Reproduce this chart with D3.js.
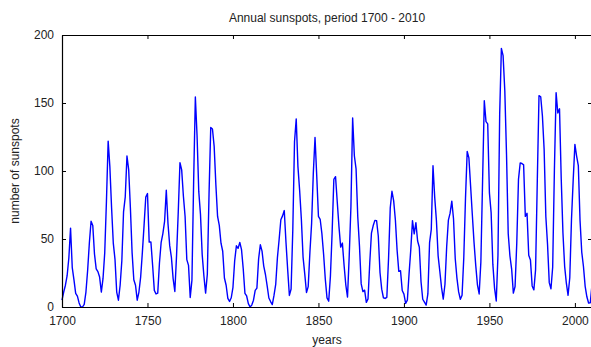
<!DOCTYPE html>
<html><head><meta charset="utf-8">
<script src="https://cdn.jsdelivr.net/npm/d3@7"></script>
<style>body{margin:0;background:#fff}svg{display:block}text{font-family:"Liberation Sans",Arial,sans-serif}</style>
</head><body>
<script>
const startYear = 1700;
const sunspots = [
5,11,16,23,36,58,29,20,10,8,
3,0,0,2,11,27,47,63,60,39,
28,26,22,11,21,40,78,122,103,73,
47,35,11,5,16,34,70,81,111,101,
73,40,20,16,5,11,22,40,60,80.9,
83.4,47.7,47.8,30.7,12.2,9.6,10.2,32.4,47.6,54,
62.9,85.9,61.2,45.1,36.4,20.9,11.4,37.8,69.8,106.1,
100.8,81.6,66.5,34.8,30.6,7,19.8,92.5,154.4,125.9,
84.8,68.1,38.5,22.8,10.2,24.1,82.9,132,130.9,118.1,
89.9,66.6,60,46.9,41,21.3,16,6.4,4.1,6.8,
14.5,34,45,43.1,47.5,42.2,28.1,10.1,8.1,2.5,
0,1.4,5,12.2,13.9,35.4,45.8,41.1,30.1,23.9,
15.6,6.6,4,1.8,8.5,16.6,36.3,49.6,64.2,67,
70.9,47.8,27.5,8.5,13.2,56.9,121.5,138.3,103.2,85.7,
64.6,36.7,24.2,10.7,15,40.1,61.5,98.5,124.7,96.3,
66.6,64.5,54.1,39,20.6,6.7,4.3,22.7,54.8,93.8,
95.8,77.2,59.1,44,47,30.5,16.3,7.3,37.6,74,
139,111.2,101.6,66.2,44.7,17,11.3,12.4,3.4,6,
32.3,54.3,59.7,63.7,63.5,52.2,25.4,13.1,6.8,6.3,
7.1,35.6,73,85.1,78,64,41.8,26.2,26.7,12.1,
9.5,2.7,5,24.4,42,63.5,53.8,62,48.5,43.9,
18.6,5.7,3.6,1.4,9.6,47.4,57.1,103.9,80.6,63.6,
37.6,26.1,14.2,5.8,16.7,44.3,63.9,69,77.8,64.9,
35.7,21.2,11.1,5.7,8.7,36.1,79.7,114.4,109.6,88.8,
67.8,47.5,30.6,16.3,9.6,33.2,92.6,151.6,136.3,134.7,
83.9,69.4,31.5,13.9,4.4,38,141.7,190.2,184.8,159,
112.3,53.9,37.5,27.9,10.2,15.1,47,93.8,105.9,105.5,
104.5,66.6,68.9,38,34.5,15.5,12.6,27.5,92.5,155.4,
154.6,140.4,115.9,66.6,45.9,17.9,13.4,29.2,100.2,157.6,
142.6,145.7,94.3,54.6,29.9,17.5,8.6,21.5,64.3,93.3,
119.6,111.0,104.0,63.7,40.4,29.8,15.2,7.5,2.9,3.1,
16.5
];
const xTicks = [1700,1750,1800,1850,1900,1950,2000];
const yTicks = [0,50,100,150,200];
const title = "Annual sunspots, period 1700 - 2010";
const xLabel = "years";
const yLabel = "number of sunspots";

const data = sunspots.map((v,i)=>({year:startYear+i, value:v}));
const W=591,H=347;
const m={left:62,right:-1,top:35,bottom:40};
const x=d3.scaleLinear().domain([1700,2010]).range([m.left,W-m.right]);
const y=d3.scaleLinear().domain([0,200]).range([H-m.bottom,m.top]);

const svg=d3.select("body").append("svg").attr("width",W).attr("height",H);

svg.append("path").datum(data)
  .attr("fill","none").attr("stroke","#0000ff").attr("stroke-width",1.4)
  .attr("stroke-linejoin","round")
  .attr("d",d3.line().x(d=>x(d.year)).y(d=>y(d.value)));

const fs="12px";
const gBottom=svg.append("g").attr("transform",`translate(0,${y(0)})`)
  .call(d3.axisBottom(x).tickValues(xTicks).tickFormat(d3.format("d")).tickSizeInner(-4).tickSizeOuter(0).tickPadding(9));
const gTop=svg.append("g").attr("transform",`translate(0,${y(200)})`)
  .call(d3.axisTop(x).tickValues(xTicks).tickFormat("").tickSizeInner(-4).tickSizeOuter(0));
const gLeft=svg.append("g").attr("transform",`translate(${x(1700)},0)`)
  .call(d3.axisLeft(y).tickValues(yTicks).tickSizeInner(-4).tickSizeOuter(0).tickPadding(8));
const gRight=svg.append("g").attr("transform",`translate(${x(2010)},0)`)
  .call(d3.axisRight(y).tickValues(yTicks).tickFormat("").tickSizeInner(-4).tickSizeOuter(0));
[gBottom,gTop,gLeft,gRight].forEach(g=>{
  g.selectAll("path").attr("stroke","#000").attr("stroke-width",1.2);
  g.selectAll("line").attr("stroke","#000");
  g.selectAll("text").attr("fill","#222").style("font-size",fs).style("font-family",'"Liberation Sans",Arial,sans-serif');
});

svg.append("text").attr("x",(x(1700)+x(2010))/2).attr("y",22).attr("text-anchor","middle")
  .attr("fill","#222").style("font-size",fs).text(title);
svg.append("text").attr("x",(x(1700)+x(2010))/2).attr("y",344).attr("text-anchor","middle")
  .attr("fill","#222").style("font-size",fs).text(xLabel);
svg.append("text").attr("transform",`translate(19,${(y(0)+y(200))/2}) rotate(-90)`).attr("text-anchor","middle")
  .attr("fill","#222").style("font-size",fs).text(yLabel);
</script>
</body></html>
